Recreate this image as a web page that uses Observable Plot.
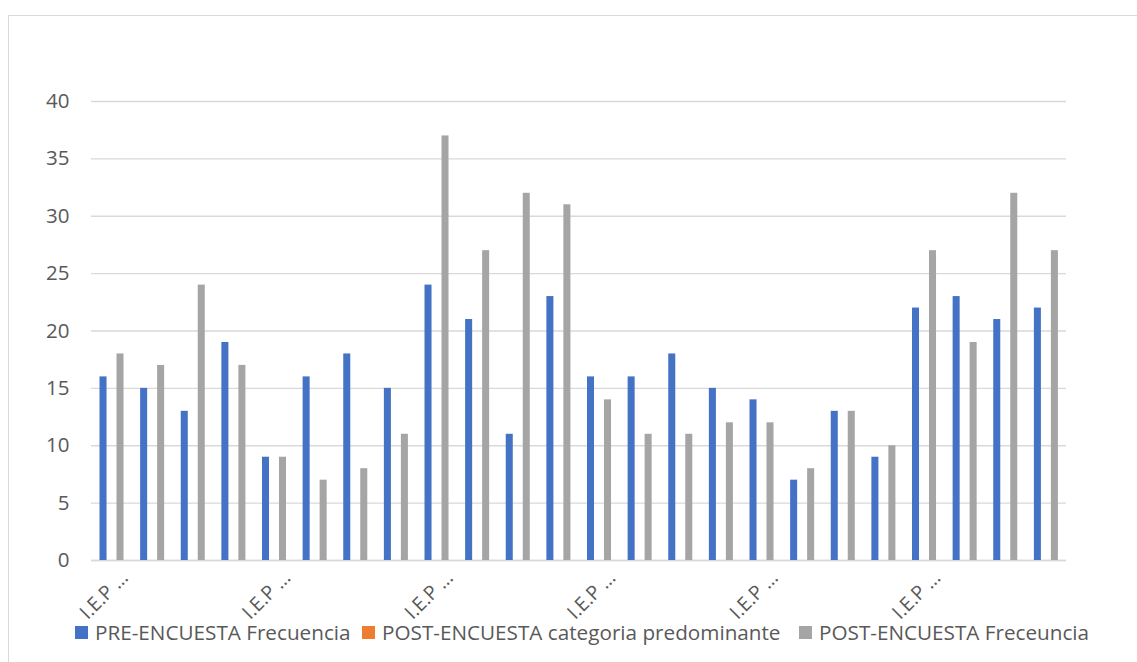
<!DOCTYPE html>
<html>
<head>
<meta charset="utf-8">
<script src="https://cdn.jsdelivr.net/npm/d3@7"></script>
<script src="https://cdn.jsdelivr.net/npm/@observablehq/plot@0.6"></script>
<style>
  body { margin: 0; background: #fff; overflow: hidden; width: 1137px; height: 662px; font-family: "Open Sans", sans-serif; position: relative; }
  #frame { position: absolute; left: 8px; top: 15px; width: 1300px; height: 800px; border: 1.5px solid #d9d9d9; box-sizing: border-box; pointer-events: none; }
  #wrap { position: absolute; left: 0; top: 0; width: 1137px; }
  #legend { position: relative; height: 24px; width: 1137px; font-size: 20.7px; color: #595959; }
  .item { position: absolute; top: 0; height: 24px; display: flex; align-items: center; white-space: nowrap; }
  .sw { width: 13px; height: 13px; margin-right: 7px; display: inline-block; }
</style>
</head>
<body>
<div id="frame"></div>
<div id="wrap"><div id="chart"></div><div id="legend"></div></div>
<script>
const categories = [
  "I.E.P 01", "I.E.P 02", "I.E.P 03", "I.E.P 04", "I.E.P 05", "I.E.P 06",
  "I.E.P 07", "I.E.P 08", "I.E.P 09", "I.E.P 10", "I.E.P 11", "I.E.P 12",
  "I.E.P 13", "I.E.P 14", "I.E.P 15", "I.E.P 16", "I.E.P 17", "I.E.P 18",
  "I.E.P 19", "I.E.P 20", "I.E.P 21", "I.E.P 22", "I.E.P 23", "I.E.P 24"
];
const preFrecuencia  = [16, 15, 13, 19, 9, 16, 18, 15, 24, 21, 11, 23, 16, 16, 18, 15, 14, 7, 13, 9, 22, 23, 21, 22];
const postCategoria  = []; // text series: no numeric values drawn
const postFrecuencia = [18, 17, 24, 17, 9, 7, 8, 11, 37, 27, 32, 31, 14, 11, 11, 12, 12, 8, 13, 10, 27, 19, 32, 27];
const yTicks = [0, 5, 10, 15, 20, 25, 30, 35, 40];
const tickLabel = "I.E.P …";
const labeledCategories = [categories[0], categories[4], categories[8], categories[12], categories[16], categories[20]];
const seriesNames = ["PRE-ENCUESTA Frecuencia", "POST-ENCUESTA categoria predominante", "POST-ENCUESTA Freceuncia"];
const seriesColors = ["#4472C4", "#ED7D31", "#A5A5A5"];

const preRows = categories.map((c, i) => ({cat: c, v: preFrecuencia[i]}));
const postRows = categories.map((c, i) => ({cat: c, v: postFrecuencia[i]}));

const chart = Plot.plot({
  width: 1137,
  height: 620,
  marginTop: 101,
  marginBottom: 60,
  marginLeft: 91,
  marginRight: 71,
  style: {color: "#595959", fontFamily: "'Open Sans', sans-serif", background: "transparent", overflow: "visible"},
  x: {type: "band", domain: categories, padding: 0, round: false},
  y: {domain: [0, 40]},
  marks: [
    Plot.gridY(yTicks, {stroke: "#d9d9d9", strokeOpacity: 1, strokeWidth: 1.3}),
    Plot.ruleY([0], {stroke: "#d9d9d9", strokeWidth: 1.6}),
    Plot.barY(preRows, {x: "cat", y: "v", fill: seriesColors[0], insetLeft: 8.5, insetRight: 25.1}),
    Plot.barY(postRows, {x: "cat", y: "v", fill: seriesColors[2], insetLeft: 25.5, insetRight: 8.1}),
    Plot.axisY({ticks: yTicks, tickSize: 0, tickPadding: 22, fontSize: 20.5, label: null}),
    Plot.axisX({ticks: labeledCategories, tickFormat: () => tickLabel, tickRotate: -45, tickSize: 0, tickPadding: 0, fontSize: 19.5, dx: 13, dy: 14, label: null})
  ]
});
document.getElementById("chart").appendChild(chart);

const legend = document.getElementById("legend");
const lefts = [75, 362, 799];
seriesNames.forEach((name, i) => {
  const item = document.createElement("div");
  item.className = "item";
  item.style.left = lefts[i] + "px";
  item.innerHTML = `<span class="sw" style="background:${seriesColors[i]}"></span><span>${name}</span>`;
  legend.appendChild(item);
});
</script>
</body>
</html>
